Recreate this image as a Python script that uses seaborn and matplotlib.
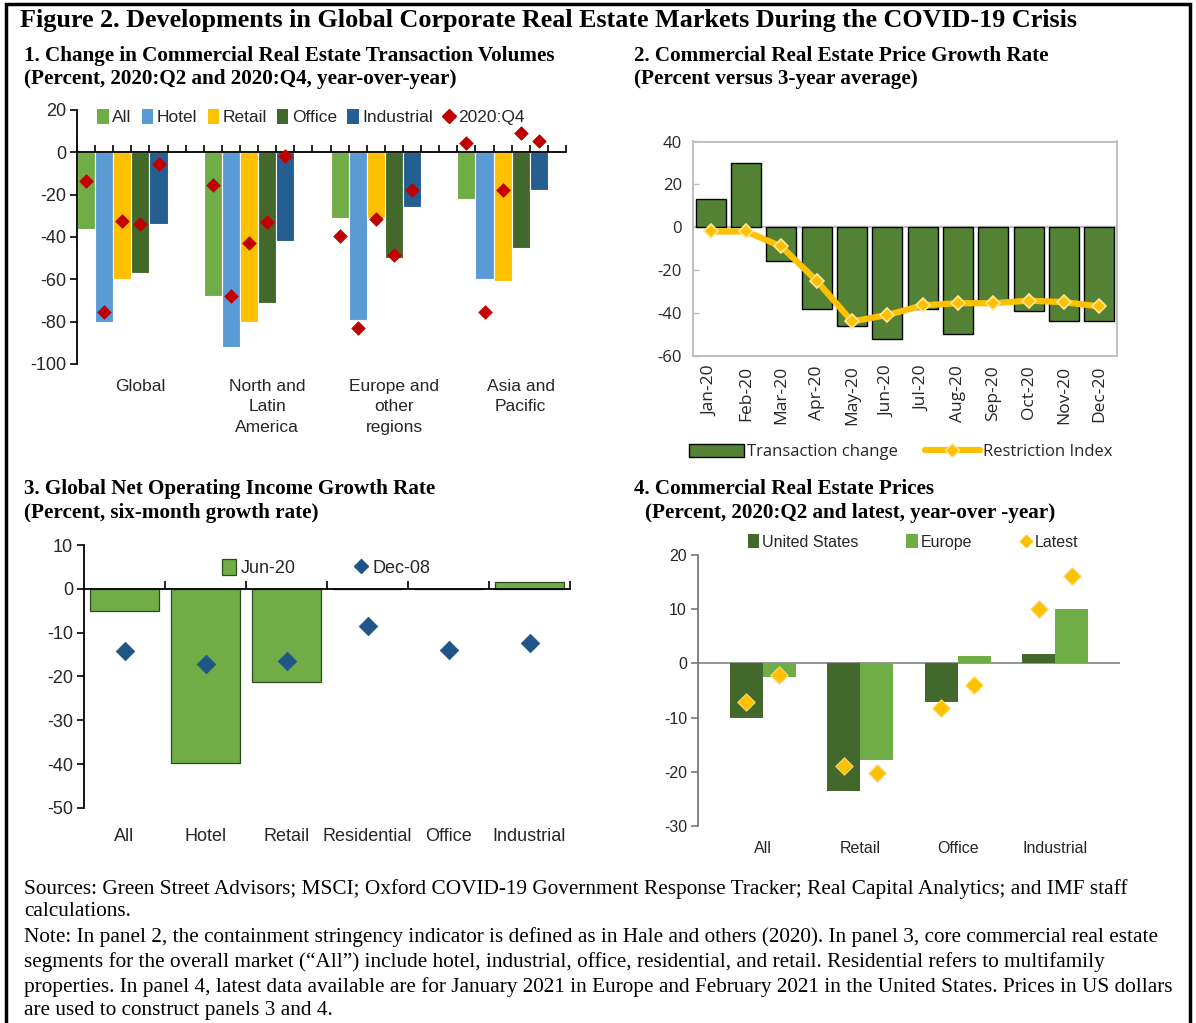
import numpy as np
import pandas as pd
import matplotlib
matplotlib.use("Agg")
import matplotlib.pyplot as plt
import seaborn as sns
from matplotlib.patches import Patch, Rectangle
from matplotlib.lines import Line2D
from matplotlib import font_manager as fm

# ---------------- data ----------------
# Panel 1: transaction volumes (2020:Q2 bars, 2020:Q4 diamonds)
p1_regions = ["Global", "North and\nLatin\nAmerica", "Europe and\nother\nregions", "Asia and\nPacific"]
p1_types = ["All", "Hotel", "Retail", "Office", "Industrial"]
p1_q2_all = [-36, -68, -31, -22]
p1_q2_hotel = [-80, -92, -79, -60]
p1_q2_retail = [-60, -80, -31, -61]
p1_q2_office = [-57, -71, -50, -45]
p1_q2_industrial = [-34, -42, -26, -18]
p1_q4_all = [-13.7, -15.5, -39.6, 4.4]
p1_q4_hotel = [-75.2, -67.8, -83.2, -75.2]
p1_q4_retail = [-32.5, -42.9, -31.6, -17.9]
p1_q4_office = [-34.0, -32.7, -48.5, 9.1]
p1_q4_industrial = [-5.5, -1.6, -17.7, 5.2]

# Panel 2: price growth vs 3-year average
p2_months = ["Jan-20", "Feb-20", "Mar-20", "Apr-20", "May-20", "Jun-20",
             "Jul-20", "Aug-20", "Sep-20", "Oct-20", "Nov-20", "Dec-20"]
p2_transaction = [13, 30, -16, -38, -46, -52, -38, -50, -35, -39, -44, -44]
p2_restriction = [-2, -2, -9, -25, -44, -41, -36.5, -35.5, -35.5, -34.3, -35, -37]

# Panel 3: NOI growth
p3_cats = ["All", "Hotel", "Retail", "Residential", "Office", "Industrial"]
p3_jun20 = [-5.0, -39.7, -21.3, 0.0, 0.0, 1.5]
p3_dec08 = [-14.1, -17.1, -16.5, -8.4, -13.9, -12.4]

# Panel 4: CRE prices
p4_cats = ["All", "Retail", "Office", "Industrial"]
p4_us = [-10.0, -23.6, -7.1, 1.8]
p4_europe = [-2.5, -17.8, 1.4, 10.0]
p4_latest_us = [-7.1, -19.0, -8.2, 10.1]
p4_latest_europe = [-2.1, -20.2, -3.9, 16.1]

title = "Figure 2. Developments in Global Corporate Real Estate Markets During the COVID-19 Crisis"
sub1 = ["1. Change in Commercial Real Estate Transaction Volumes",
        "(Percent, 2020:Q2 and 2020:Q4, year-over-year)"]
sub2 = ["2. Commercial Real Estate Price Growth Rate", "(Percent versus 3-year average)"]
sub3 = ["3. Global Net Operating Income Growth Rate", "(Percent, six-month growth rate)"]
sub4 = ["4. Commercial Real Estate Prices", "(Percent, 2020:Q2 and latest, year-over -year)"]
notes = [
    "Sources: Green Street Advisors; MSCI; Oxford COVID-19 Government Response Tracker; Real Capital Analytics; and IMF staff",
    "calculations.",
    "Note: In panel 2, the containment stringency indicator is defined as in Hale and others (2020). In panel 3, core commercial real estate",
    "segments for the overall market (\u201cAll\u201d) include hotel, industrial, office, residential, and retail. Residential refers to multifamily",
    "properties. In panel 4, latest data available are for January 2021 in Europe and February 2021 in the United States. Prices in US dollars",
    "are used to construct panels 3 and 4.",
]

# ---------------- style ----------------
sns.set_theme(style="white")


def pick(names):
    for n in names:
        try:
            fm.findfont(fm.FontProperties(family=n), fallback_to_default=False)
            return n
        except Exception:
            pass
    return "DejaVu Sans"


NARROW = pick(["Liberation Sans Narrow", "Arial Narrow", "Liberation Sans"])
SEGOE = pick(["Open Sans", "Noto Sans", "DejaVu Sans"])
SERIF = pick(["Liberation Serif", "DejaVu Serif"])
plt.rcParams["font.family"] = [NARROW, "DejaVu Sans"]
plt.rcParams["axes.unicode_minus"] = False

FS = 12.5  # chart text size for panels 1 and 3

W, H = 1196, 1023
fig = plt.figure(figsize=(W / 100, H / 100), dpi=100)
fig.patch.set_facecolor("white")


def axes_px(l, t, r, b):
    return fig.add_axes([l / W, 1 - b / H, (r - l) / W, (b - t) / H])


# ---------------- panel 1 ----------------
c_all, c_hotel, c_retail, c_office, c_ind = "#70AD47", "#5B9BD5", "#FFC000", "#43682B", "#255E91"
p1_colors = [c_all, c_hotel, c_retail, c_office, c_ind]
q2_lists = [p1_q2_all, p1_q2_hotel, p1_q2_retail, p1_q2_office, p1_q2_industrial]
q4_lists = [p1_q4_all, p1_q4_hotel, p1_q4_retail, p1_q4_office, p1_q4_industrial]
rows = []
for t, q2, q4 in zip(p1_types, q2_lists, q4_lists):
    for i, r in enumerate(p1_regions):
        rows.append({"region": r, "type": t, "q2": q2[i], "q4": q4[i],
                     "xq4": i + (p1_types.index(t) - 2) / 7})
df1 = pd.DataFrame(rows)

ax1 = axes_px(77, 110, 566, 364)
sns.barplot(data=df1, x="region", y="q2", hue="type", hue_order=p1_types, order=p1_regions,
            palette=p1_colors, width=5 / 7, gap=0, saturation=1, edgecolor="white",
            linewidth=0.8, ax=ax1, legend=False)
sns.scatterplot(data=df1, x="xq4", y="q4", marker="D", s=48, color="#C00000",
                edgecolor="#C00000", linewidth=0.5, ax=ax1, zorder=5, legend=False)
ax1.set_xlim(-2.5 / 7, 3 + 3.5 / 7)
ax1.set_ylim(-100, 20)
for s in ["top", "right"]:
    ax1.spines[s].set_visible(False)
ax1.spines["bottom"].set_position(("data", 0))
for s in ["left", "bottom"]:
    ax1.spines[s].set_color("black")
    ax1.spines[s].set_linewidth(1.3)
ax1.set_yticks(np.arange(-100, 21, 20))
ax1.tick_params(axis="y", direction="out", length=5, width=1.2, color="black",
                labelsize=FS + 0.5, pad=3, left=True)
ax1.set_xticks(np.arange(4) + 1 / 7)
ax1.set_xticklabels(p1_regions, linespacing=1.45)
ax1.set_xticks(-2.5 / 7 + np.arange(28) / 7, minor=True)
ax1.tick_params(axis="x", which="major", length=0, pad=163, labelsize=FS)
ax1.tick_params(axis="x", which="minor", direction="in", length=5, width=1.2, color="black", bottom=True)
ax1.set_xlabel("")
ax1.set_ylabel("")
h1 = [Patch(facecolor=c, edgecolor="none") for c in p1_colors]
h1.append(Line2D([], [], marker="D", color="none", markerfacecolor="#C00000",
                 markeredgecolor="#C00000", markersize=7))
ax1.legend(h1, p1_types + ["2020:Q4"], ncol=6, loc="center",
           bbox_to_anchor=((311 - 77) / 489, (364 - 117) / 254), frameon=False,
           handlelength=0.65, handleheight=1.0, handletextpad=0.2, columnspacing=0.6,
           fontsize=FS, borderaxespad=0)

# ---------------- panel 2 ----------------
ax2 = axes_px(693, 141.5, 1117, 355.7)
sns.barplot(x=p2_months, y=p2_transaction, color="#548235", saturation=1, edgecolor="black",
            linewidth=1, width=0.84, ax=ax2)
sns.lineplot(x=np.arange(len(p2_months)), y=p2_restriction, color="#FFC000", linewidth=4.5,
             marker="D", markersize=7, markerfacecolor="#FFC000", markeredgecolor="#FFE699",
             markeredgewidth=1.2, ax=ax2, zorder=5, sort=False)
ax2.axhline(0, color="#BFBFBF", lw=1.6, zorder=0.5)
ax2.set_xlim(-0.5, 11.5)
ax2.set_ylim(-60, 40)
for s in ax2.spines.values():
    s.set_visible(True)
    s.set_color("#BFBFBF")
    s.set_linewidth(1.4)
ax2.set_yticks(np.arange(-60, 41, 20))
ax2.tick_params(axis="y", direction="in", length=4, width=1, color="#BFBFBF", left=True,
                labelsize=12, pad=8, labelcolor="#262626")
ax2.tick_params(axis="x", length=0, pad=7, labelsize=12.5, labelrotation=90, labelcolor="#262626")
for lab in ax2.get_xticklabels() + ax2.get_yticklabels():
    lab.set_fontfamily([SEGOE, "DejaVu Sans"])
ax2.set_xlabel("")
ax2.set_ylabel("")
h2 = [Patch(facecolor="#548235", edgecolor="black", linewidth=1),
      Line2D([], [], color="#FFC000", lw=4.5, marker="D", markersize=7,
             markerfacecolor="#FFC000", markeredgecolor="#FFE699")]
ax2.legend(h2, ["Transaction change", "Restriction Index"], ncol=2, loc="center",
           bbox_to_anchor=(0.49, (355.7 - 452) / 214.2), frameon=False,
           handlelength=3.3, handleheight=0.9, handletextpad=0.2, columnspacing=1.6,
           prop={"family": [SEGOE, "DejaVu Sans"], "size": 12}, borderaxespad=0)

# ---------------- panel 3 ----------------
ax3 = axes_px(84, 545, 570, 808)
sns.barplot(x=p3_cats, y=p3_jun20, color="#70AD47", saturation=1, edgecolor="#2E4A1E",
            linewidth=0.9, width=0.84, ax=ax3)
sns.scatterplot(x=np.arange(len(p3_cats)), y=p3_dec08, marker="D", s=90, color="#1F5587",
                edgecolor="#1F5587", linewidth=0.5, ax=ax3, zorder=5, legend=False)
ax3.set_xlim(-0.5, 5.5)
ax3.set_ylim(-50, 10)
for s in ["top", "right"]:
    ax3.spines[s].set_visible(False)
ax3.spines["bottom"].set_position(("data", 0))
for s in ["left", "bottom"]:
    ax3.spines[s].set_color("black")
    ax3.spines[s].set_linewidth(1.3)
ax3.set_yticks(np.arange(-50, 11, 10))
ax3.tick_params(axis="y", direction="out", length=5, width=1.2, color="black", left=True,
                labelsize=FS + 0.5, pad=3)
ax3.set_xticks(np.arange(len(p3_cats)))
ax3.set_xticklabels(p3_cats)
ax3.set_xticks(np.arange(len(p3_cats)) + 0.5, minor=True)
ax3.tick_params(axis="x", which="major", length=0, pad=172, labelsize=FS + 0.5)
ax3.tick_params(axis="x", which="minor", direction="in", length=6, width=1.2, color="black", bottom=True)
ax3.set_xlabel("")
ax3.set_ylabel("")
h3 = [Patch(facecolor="#70AD47", edgecolor="#2E4A1E", linewidth=0.9),
      Line2D([], [], marker="D", color="none", markerfacecolor="#1F5587",
             markeredgecolor="#1F5587", markersize=7)]
ax3.legend(h3, ["Jun-20", "Dec-08"], ncol=2, loc="center",
           bbox_to_anchor=((326 - 84) / 486, (808 - 568) / 263), frameon=False,
           handlelength=0.8, handleheight=1.0, handletextpad=0.25, columnspacing=3.2,
           fontsize=FS + 0.5, borderaxespad=0)

# ---------------- panel 4 ----------------
rows4 = []
for i, c in enumerate(p4_cats):
    rows4.append({"cat": c, "reg": "United States", "val": p4_us[i], "latest": p4_latest_us[i], "xl": i - 0.168})
    rows4.append({"cat": c, "reg": "Europe", "val": p4_europe[i], "latest": p4_latest_europe[i], "xl": i + 0.168})
df4 = pd.DataFrame(rows4)
ax4 = axes_px(698, 555, 1120, 826)
sns.barplot(data=df4, x="cat", y="val", hue="reg", hue_order=["United States", "Europe"],
            order=p4_cats, palette=["#43682B", "#70AD47"], width=0.672, gap=0, saturation=1,
            edgecolor="none", linewidth=0, ax=ax4, legend=False)
sns.scatterplot(data=df4, x="xl", y="latest", marker="D", s=78, color="#FFC000",
                edgecolor="#FFD966", linewidth=0.8, ax=ax4, zorder=5, legend=False)
ax4.axhline(0, color="#8C8C8C", lw=1.3, zorder=0.5)
ax4.set_xlim(-0.664, 3.664)
ax4.set_ylim(-30, 20)
for s in ["top", "right", "bottom"]:
    ax4.spines[s].set_visible(False)
ax4.spines["left"].set_color("#6E6E6E")
ax4.spines["left"].set_linewidth(1.2)
ax4.set_yticks(np.arange(-30, 21, 10))
ax4.tick_params(axis="y", direction="out", length=5, width=1.1, color="#6E6E6E", left=True,
                labelsize=11.5, pad=3)
ax4.tick_params(axis="x", length=0, pad=11, labelsize=11.5)
ax4.set_xlabel("")
ax4.set_ylabel("")
h4 = [Patch(facecolor="#43682B", edgecolor="none"), Patch(facecolor="#70AD47", edgecolor="none"),
      Line2D([], [], marker="D", color="none", markerfacecolor="#FFC000",
             markeredgecolor="#FFC000", markersize=6.5)]
ax4.legend(h4, ["United States", "Europe", "Latest"], ncol=3, loc="center",
           bbox_to_anchor=((913 - 698) / 422, (826 - 542) / 271), frameon=False,
           handlelength=0.7, handleheight=0.95, handletextpad=0.2, columnspacing=3.0,
           fontsize=11.5, borderaxespad=0)

# ---------------- texts ----------------
renderer = fig.canvas.get_renderer()


def fit_size(s, target, weight, base=14):
    t = fig.text(0, 0, s, fontsize=base, family=[SERIF, "DejaVu Serif"], fontweight=weight)
    w = t.get_window_extent(renderer).width
    t.remove()
    return base * target / w


def put(x, y, s, size, weight):
    fig.text(x / W, 1 - y / H, s, fontsize=size, family=[SERIF, "DejaVu Serif"],
             fontweight=weight, ha="left", va="center", color="black")


fs_title = fit_size(title, 1063, "bold")
put(20, 21, title, fs_title, "bold")
fs_sub = fit_size(sub1[0], 533, "bold")
put(24, 56, sub1[0], fs_sub, "bold")
put(24, 79, sub1[1], fs_sub, "bold")
put(634, 56, sub2[0], fs_sub, "bold")
put(634, 79, sub2[1], fs_sub, "bold")
put(24, 489, sub3[0], fs_sub, "bold")
put(24, 513, sub3[1], fs_sub, "bold")
put(634, 489, sub4[0], fs_sub, "bold")
put(645, 513, sub4[1], fs_sub, "bold")
fs_note = fit_size(notes[0], 1106, "normal")
for k, line in enumerate(notes):
    put(24, [889, 912, 937, 962, 987, 1011][k], line, fs_note, "normal")

fig.add_artist(Rectangle((6 / W, 1 - 1040 / H), (1190 - 6) / W, (1040 - 4) / H,
                         transform=fig.transFigure, fill=False, edgecolor="black",
                         linewidth=2.5, clip_on=False))

fig.savefig("out.png", dpi=100, facecolor="white")
